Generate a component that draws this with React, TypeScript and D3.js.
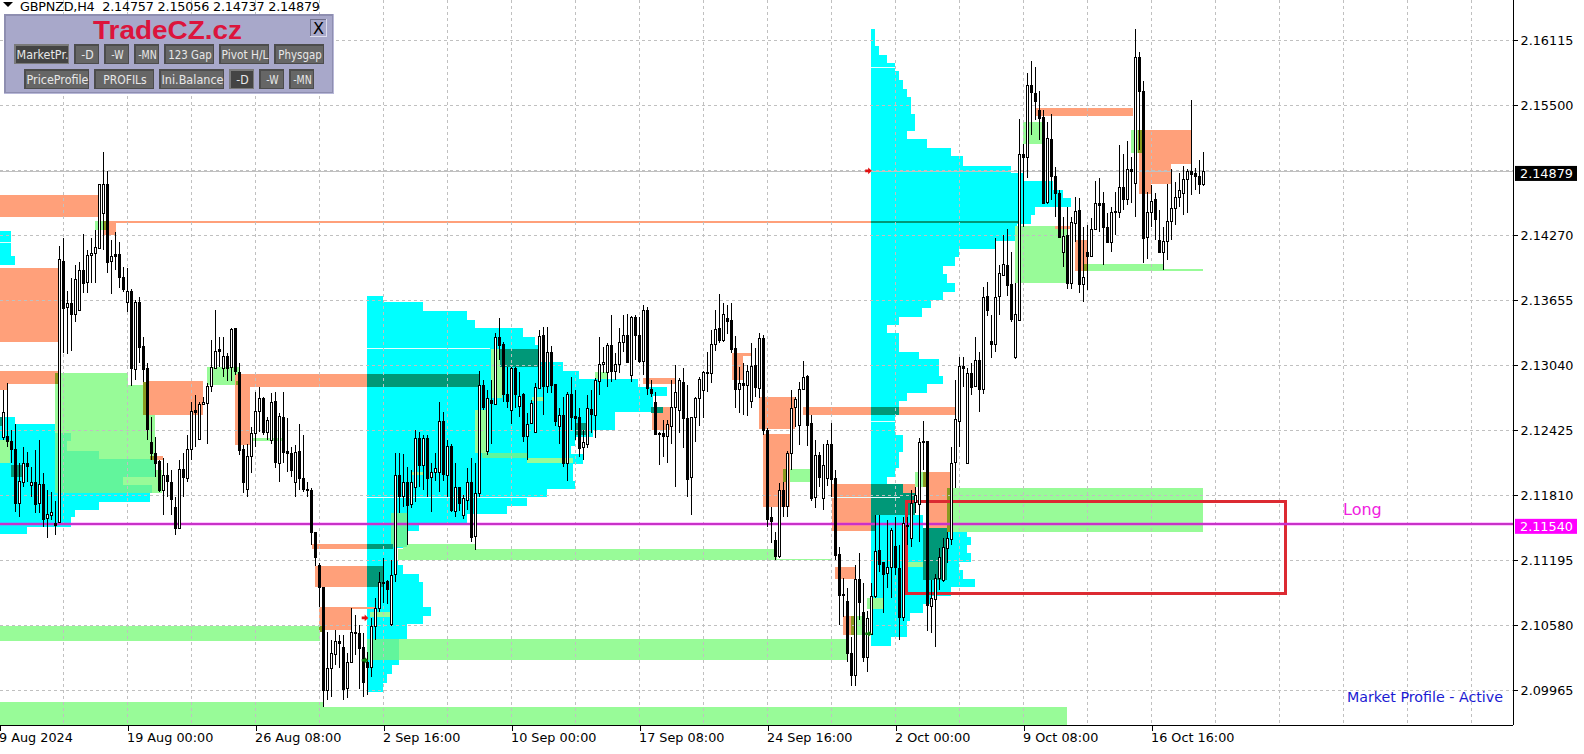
// GBPNZD H4 chart with market profile zones, drawn with D3 into one svg.
import { useEffect, useRef } from "react";
import * as d3 from "d3";

const WIDTH = 1584;
const HEIGHT = 754;
const PLOT_RIGHT = 1513;
const PLOT_BOTTOM = 725;

// All prices below are stored as pips above 2.0000, bars are counted from the first full candle.
// Candles: [open, high, low, close]
const candlesAug = [
  [1236,1281,1233,1260],[1237,1287,1227,1232],[1232,1243,1212,1224],[1225,1248,1165,1174],[1174,1212,1160,1195],
  [1194,1227,1189,1212],[1212,1222,1194,1209],[1191,1208,1179,1194],[1194,1224,1164,1173],[1174,1233,1164,1192],
  [1192,1202,1151,1159],[1159,1186,1141,1163],[1162,1184,1158,1165],[1155,1176,1143,1153],[1156,1417,1155,1405],
  [1403,1424,1316,1359],[1359,1374,1315,1363],[1363,1387,1318,1353],[1353,1399,1345,1386],[1356,1402,1356,1394],
  [1394,1428,1372,1382],[1382,1413,1372,1408],[1408,1424,1382,1410],[1410,1432,1382,1416],[1415,1476,1415,1476],
  [1449,1506,1413,1476],[1476,1488,1391,1402],[1402,1423,1371,1407],[1409,1430,1394,1407],[1409,1421,1377,1387],
  [1388,1397,1373,1377],[1364,1396,1354,1374],[1374,1376,1284,1301],[1301,1366,1290,1364],[1364,1369,1306,1321],
  [1322,1331,1288,1300],[1301,1306,1233,1243],[1231,1255,1214,1221],[1221,1236,1198,1212],[1213,1214,1184,1186],
  [1186,1216,1162,1200],[1200,1212,1179,1194],[1194,1205,1162,1178],[1170,1179,1143,1150],[1150,1214,1150,1206],
  [1206,1221,1179,1198],[1198,1238,1194,1225],[1225,1269,1214,1261],[1262,1276,1227,1260],[1234,1269,1233,1267],
  [1267,1274,1267,1269],[1268,1287,1230,1284],[1284,1328,1279,1302],[1302,1356,1301,1318],[1319,1331,1302,1317],
  [1302,1331,1293,1313],[1313,1316,1289,1302],[1302,1339,1289,1338],[1339,1339,1295,1298],[1298,1306,1219,1224],
  [1225,1229,1183,1194],[1187,1230,1179,1218],[1218,1246,1202,1240],[1240,1279,1227,1261],[1261,1283,1241,1273],
  [1273,1274,1238,1241],[1241,1255,1233,1252],[1233,1278,1230,1269],[1270,1279,1207,1212],[1212,1259,1194,1256],
  [1255,1279,1212,1222],[1223,1254,1203,1221],[1221,1227,1198,1205],[1194,1229,1179,1222],[1223,1248,1186,1197],
  [1197,1238,1184,1187],[1187,1194,1179,1186],[1186,1188,1134,1146],[1146,1146,1114,1122],[1115,1117,1075,1094],
  [1094,1094,981,997],[997,1052,987,1018],[1018,1044,990,1032],[1031,1054,1020,1043],[1043,1049,1018,1041],
  [1037,1049,987,997],[998,1032,989,1023],[1024,1074,1023,1052],[1051,1068,1030,1052],[1051,1058,998,1037],
  [1037,1051,990,1004],[1023,1033,992,1018],[1018,1065,1009,1057],[1057,1084,1044,1074],[1074,1108,1071,1099],
];
const candlesSep = [
  [1099,1122,1079,1098],[1100,1101,1078,1092],[1060,1120,1057,1106],[1106,1221,1099,1200],[1200,1221,1164,1180],
  [1181,1220,1170,1194],[1194,1208,1134,1172],[1173,1205,1169,1194],[1189,1243,1175,1235],[1235,1241,1189,1209],
  [1209,1238,1186,1235],[1235,1238,1179,1197],[1198,1212,1165,1203],[1203,1221,1195,1207],[1203,1269,1184,1251],
  [1251,1260,1195,1201],[1201,1233,1179,1228],[1228,1230,1165,1167],[1166,1212,1160,1189],[1189,1189,1166,1174],
  [1162,1181,1159,1178],[1177,1207,1167,1194],[1194,1216,1137,1142],[1142,1212,1129,1183],[1183,1299,1179,1285],
  [1285,1290,1262,1264],[1223,1281,1219,1273],[1271,1290,1230,1268],[1268,1335,1267,1331],[1331,1349,1309,1323],
  [1324,1326,1269,1277],[1277,1302,1264,1270],[1261,1302,1248,1301],[1301,1302,1264,1276],[1266,1298,1255,1275],
  [1277,1278,1231,1237],[1237,1259,1214,1248],[1249,1271,1248,1268],[1240,1287,1240,1283],[1283,1337,1282,1332],
  [1333,1340,1257,1285],[1285,1340,1278,1317],[1317,1322,1278,1286],[1286,1286,1247,1251],[1247,1264,1230,1257],
  [1257,1274,1208,1212],[1212,1279,1195,1277],[1277,1293,1243,1255],[1256,1281,1233,1254],[1255,1264,1217,1226],
  [1226,1243,1214,1231],[1230,1276,1226,1264],[1263,1281,1240,1258],[1257,1292,1235,1290],[1289,1331,1276,1305],
  [1305,1321,1297,1307],[1297,1325,1283,1323],[1323,1352,1288,1298],[1298,1316,1290,1305],[1305,1339,1297,1326],
  [1326,1352,1317,1333],[1333,1353,1306,1307],[1295,1351,1288,1350],[1350,1352,1309,1333],[1333,1350,1306,1308],
  [1308,1361,1295,1356],[1356,1359,1276,1282],[1282,1290,1274,1278],[1269,1279,1238,1239],[1240,1241,1210,1239],
  [1240,1252,1217,1237],[1237,1252,1212,1248],[1247,1290,1230,1265],[1265,1304,1189,1279],[1262,1292,1240,1290],
  [1288,1301,1226,1254],[1254,1285,1179,1196],[1198,1255,1162,1255],[1255,1274,1231,1273],[1273,1293,1247,1291],
  [1281,1299,1254,1298],[1298,1317,1279,1297],[1297,1337,1287,1324],[1324,1356,1318,1338],[1339,1371,1325,1328],
  [1328,1363,1326,1353],[1349,1361,1334,1346],[1347,1363,1316,1320],[1320,1332,1264,1281],[1281,1302,1259,1287],
  [1287,1306,1257,1285],[1286,1304,1256,1299],[1270,1325,1264,1303],[1304,1320,1274,1283],[1283,1335,1273,1330],
  [1330,1333,1238,1243],[1243,1245,1151,1159],[1160,1170,1136,1156],[1139,1146,1120,1124],[1124,1193,1122,1186],
  [1186,1194,1160,1171],[1171,1223,1160,1221],[1221,1281,1205,1264],[1264,1274,1246,1272],[1248,1288,1229,1282],
  [1282,1308,1281,1293],[1294,1295,1228,1248],[1249,1257,1176,1178],[1179,1233,1169,1219],[1219,1222,1189,1198],
  [1179,1230,1167,1210],[1198,1233,1190,1230],[1230,1249,1179,1197],[1197,1205,1120,1124],[1125,1132,1058,1086],
  [1088,1103,1066,1087],[1081,1093,1023,1032],[1032,1047,1001,1011],[1011,1115,1001,1102],[1102,1126,1063,1080],
  [1071,1098,1023,1028],[1028,1072,1014,1065],[1050,1098,1049,1086],[1085,1162,1084,1128],[1129,1162,1108,1116],
  [1118,1118,1070,1107],[1107,1158,1093,1113],[1113,1150,1084,1148],
];
const candlesOct = [
  [1133,1160,1106,1113],[1112,1134,1044,1066],[1066,1160,1062,1155],[1153,1160,1134,1152],[1141,1186,1132,1174],
  [1174,1189,1164,1181],[1172,1235,1137,1231],[1231,1251,1205,1232],[1232,1232,1053,1077],[1076,1101,1051,1084],
  [1083,1107,1037,1103],[1103,1131,1091,1123],[1101,1141,1099,1132],[1132,1146,1117,1141],[1140,1227,1134,1212],
  [1212,1290,1188,1253],[1251,1312,1227,1303],[1303,1312,1283,1301],[1212,1301,1212,1297],[1297,1306,1276,1284],
  [1284,1331,1283,1309],[1309,1317,1260,1282],[1282,1378,1277,1369],[1370,1383,1351,1357],[1327,1352,1311,1324],
  [1325,1424,1317,1369],[1369,1399,1352,1391],[1390,1427,1389,1400],[1399,1433,1370,1380],[1381,1411,1345,1348],
  [1312,1382,1310,1353],[1347,1537,1346,1504],[1504,1513,1435,1501],[1501,1581,1481,1569],[1569,1592,1522,1562],
  [1562,1586,1536,1554],[1546,1564,1517,1538],[1539,1546,1457,1458],[1458,1534,1457,1519],[1518,1542,1460,1483],
  [1483,1492,1444,1467],[1467,1470,1424,1425],[1411,1444,1397,1426],[1427,1454,1376,1382],[1382,1444,1376,1440],
  [1439,1463,1421,1450],[1451,1462,1372,1381],[1381,1435,1364,1388],[1411,1437,1375,1407],[1407,1443,1406,1433],
  [1433,1478,1432,1458],[1458,1481,1430,1456],[1458,1468,1399,1435],[1435,1448,1420,1421],[1421,1454,1411,1449],
  [1450,1468,1427,1449],[1449,1512,1443,1473],[1473,1504,1451,1462],[1462,1516,1456,1490],[1490,1501,1458,1488],
  [1477,1622,1444,1596],[1596,1600,1508,1564],[1564,1573,1401,1425],[1425,1468,1405,1449],[1449,1475,1435,1459],
  [1461,1467,1423,1442],[1423,1451,1411,1412],[1412,1435,1394,1422],[1422,1476,1404,1441],[1441,1490,1423,1453],
  [1453,1477,1437,1463],[1463,1486,1454,1470],[1467,1493,1446,1480],[1480,1490,1448,1488],[1488,1555,1465,1485],
  [1486,1491,1470,1483],[1483,1498,1466,1475],[1476,1506,1474,1488],
];

// Market profile histograms: start bar, then rows of [top, bottom, end bar]
const profileLeftStart = -1;
const profileLeft = [
  [1431,1407,1.875],[1407,1399,2.875],[1255,1248,2.875],[1248,1183,12.875],[1183,1175,36.625],
  [1175,1167,23.875],[1167,1160,17.875],[1160,1151,16.875],[1151,1144,5.875],
];
const profileSepStart = 90.875;
const profileSep = [
  [1370,1364,94.875],[1364,1355,104.875],[1355,1347,115.875],[1347,1339,117.875],[1339,1331,129.875],
  [1331,1323,132.875],[1323,1307,133.625],[1307,1299,139.875],[1299,1291,143.875],[1291,1283,158.625],
  [1283,1275,165.875],[1275,1260,162.375],[1260,1243,152.875],[1243,1236,147.375],[1236,1228,142.875],
  [1228,1220,141.875],[1220,1211,144.875],[1211,1195,142.375],[1195,1187,142.875],[1187,1179,135.875],
  [1179,1171,130.875],[1171,1163,125.875],[1163,1155,115.875],[1155,1147,103.875],[1147,1131,99.875],
  [1131,1120,97.875],[1120,1115,98.625],[1115,1107,99.875],[1107,1099,103.875],[1099,1075,104.875],
  [1075,1067,106.875],[1067,1059,104.875],[1059,1045,100.875],[1045,1020,98.875],[1020,1012,97.125],
  [1012,1003,95.875],[1003,995,94.875],
];
const profileOctStart = 216.875;
const profileOctUpper = [
  [1622,1606,217.875],[1606,1598,218.875],[1598,1590,220.875],[1590,1582,222.875],[1582,1574,223.875],
  [1574,1565,224.875],[1565,1558,225.875],[1558,1542,226.875],[1542,1526,227.875],[1526,1518,225.875],
  [1518,1510,230.875],[1510,1502,236.875],[1502,1493,239.875],[1493,1486,251.875],[1486,1478,254.875],
  [1478,1470,262.375],[1470,1462,264.875],[1462,1454,266.875],[1454,1446,257.875],[1446,1438,256.875],
  [1438,1430,253.375],[1430,1422,252.875],[1422,1414,247.875],[1414,1406,238.875],[1406,1398,237.875],
  [1398,1390,234.875],[1390,1382,235.875],[1382,1373,237.875],[1373,1366,234.875],[1366,1358,231.875],
  [1358,1350,229.625],[1350,1342,223.875],[1342,1335,220.875],[1335,1317,223.875],[1317,1310,228.875],
  [1310,1294,233.875],[1294,1286,234.875],[1286,1278,230.875],[1278,1270,225.875],[1270,1257,223.875],
  [1257,1238,222.875],[1238,1222,224.875],[1222,1207,223.875],[1207,1198,222.875],[1198,1192,220.875],
];
const profileOctLower = [
  [1162,1150,229.875],[1150,1142,240.875],[1142,1134,241.875],[1134,1126,240.875],[1126,1118,241.875],
  [1118,1110,238.875],[1110,1102,239.875],[1102,1094,242.875],[1094,1086,236.875],[1086,1078,231.875],
  [1078,1070,229.875],[1070,1062,226.625],[1062,1047,225.875],[1047,1038,221.875],
];

// Zones: [from bar, to bar, top, bottom]
const salmonZones = [
  [-1,23.875,1465,1444],[24.875,28.125,1441,1427],[28.125,216.875,1441,1439],[-1,13.625,1396,1326],
  [-1,13.625,1299,1286],[-1,0.875,1286,1281],[35.875,49.875,1289,1257],[37.125,39.875,1218,1214],
  [57.875,90.875,1296,1283],[57.875,61.625,1283,1229],[77.125,90.875,1135,1130],[77.875,90.875,1114,1094],
  [78.875,87.125,1075,1054],[87.125,92.875,1075,1073],[159.875,167.875,1292,1286],[162.125,166.625,1265,1243],
  [182.125,184.875,1316,1290],[182.125,187.125,1316,1313],[188.875,197.875,1274,1244],[189.875,196.625,1239,1170],
  [199.875,216.875,1265,1257],[223.875,237.875,1265,1257],[207.125,216.875,1192,1147],[220.875,227.875,1192,1183],
  [230.625,236.875,1203,1150],[207.875,212.875,1113,1102],[209.875,211.875,1067,1049],[257.875,282.375,1547,1540],
  [262.875,266.625,1436,1433],[267.875,270.875,1423,1393],[284.625,296.875,1527,1494],[284.625,291.875,1494,1476],
  [283.875,286.875,1505,1466],
];
const greenZones = [
  [22.875,25.625,1441,1432],[12.875,31.125,1297,1285],[12.875,37.875,1285,1183],[37.875,39.625,1205,1183],
  [50.875,59.125,1302,1285],[60.875,69.875,1235,1232],[-1,79.125,1057,1043],[98.875,210.875,1045,1025],
  [-1,79.875,985,963],[79.875,265.875,981,963],[98.625,193.375,1130,1120],[99.875,117.875,1135,1130],[193.375,207.125,1121,1120],
  [194.875,201.625,1206,1194],[236.875,299.875,1188,1146],[252.875,265.875,1436,1382],[254.875,259.625,1534,1513],
  [270.875,289.875,1400,1393],[289.875,299.875,1395,1393],[281.875,284.625,1527,1505],[227.875,230.625,1203,1189],
  [212.875,214.875,1067,1049],[215.875,219.875,1084,1073],[225.875,229.875,1118,1113],[-1,1.625,1233,1212],
  [121.875,124.625,1319,1273],[117.875,120.875,1262,1221],[130.875,142.375,1216,1212],[132.125,134.875,1274,1270],
  [102.125,104.875,1203,1200],[147.875,150.875,1298,1291],[91.625,96.625,1071,1066],
];
const mediumGreenZones = [
  [12.875,16.875,1240,1232],[12.875,15.875,1232,1223],[12.875,23.875,1223,1215],[12.875,37.875,1215,1198],
  [12.875,29.875,1198,1191],[12.875,37.125,1191,1183],[90.875,98.875,1045,1025],[96.875,100.875,1164,1132],
  [119.625,130.875,1221,1216],
];
const tealZones = [
  [-1,-0.375,1255,1247],[1.875,4.875,1210,1198],[90.875,118.875,1296,1283],[124.125,133.625,1319,1302],
  [142.875,145.875,1249,1238],[161.875,164.875,1265,1259],[90.875,97.375,1135,1130],[90.875,94.875,1114,1094],
  [216.875,223.875,1265,1257],[216.875,224.875,1192,1162],[224.875,227.875,1183,1162],[216.875,217.875,1162,1147],
  [229.875,235.875,1150,1101],[216.875,253.625,1441,1439],
];
const oliveZones = [
  [24.875,25.625,1441,1432],[12.875,13.625,1297,1286],[34.875,35.875,1288,1257],[36.625,37.875,1218,1214],
  [58.125,59.125,1289,1285],[78.875,79.875,1057,1052],[194.875,196.125,1206,1194],[211.875,212.875,1067,1049],
  [235.875,236.875,1188,1146],[229.875,230.625,1203,1189],[269.875,270.875,1400,1393],[283.625,284.625,1527,1505],
];
// Thin pale lines inside the profiles: [from bar, to bar, price]
const paleLines = [
  [-1,1.875,1421],[90.875,121.5,1320],[90.875,130.875,1179],[216.875,222.875,1586],[216.875,222.875,1251],[207.125,224,1179],
];

// Signal arrows: [bar, price]
const redArrows = [[216.25,1488],[90.375,1065]];
const greenArrows = [[90.375,1025],[216.25,1050]];

// Trade box and lines
const tradeBox = { fromBar: 225.625, toBar: 320.5, top: 2.11749, bottom: 2.10878 };
const longLevel = 2.1154;
const lastPrice = 2.14879;

const priceTicks = [2.16115, 2.155, 2.14885, 2.1427, 2.13655, 2.1304, 2.12425, 2.1181, 2.11195, 2.1058, 2.09965];
const priceLabels = [2.16115, 2.155, 2.1427, 2.13655, 2.1304, 2.12425, 2.1181, 2.11195, 2.1058, 2.09965];
const timeTickBars = [-1, 31, 63, 95, 127, 159, 191, 223, 255, 287];
const timeLabels = ["9 Aug 2024", "19 Aug 00:00", "26 Aug 08:00", "2 Sep 16:00", "10 Sep 00:00", "17 Sep 08:00", "24 Sep 16:00", "2 Oct 00:00", "9 Oct 08:00", "16 Oct 16:00"];
const gridBars = d3.range(-1, 368, 16);

// Control panel buttons
const buttonRow1 = ["MarketPr.", "-D", "-W", "-MN", "123 Gap", "Pivot H/L", "Physgap"];
const buttonRow1Widths = [55, 25, 25, 25, 50, 50, 50];
const buttonRow2 = ["PriceProfile", "PROFILs", "Ini.Balance", "-D", "-W", "-MN"];
const buttonRow2Widths = [65, 60, 65, 25, 25, 25];

const FONT = "'DejaVu Sans', sans-serif";
const AXIS_FONT_SIZE = 12.8;
const SALMON = "#ffa07a";
const GREEN = "#98fb98";
const MEDIUM_GREEN = "#62f59c";
const CYAN = "#00ffff";
const TEAL = "#009878";
const OLIVE = "#8a9a20";

const toPrice = (pips: number) => 2 + pips / 10000;

export default function App() {
  const svgRef = useRef<SVGSVGElement>(null);

  useEffect(() => {
    document.body.style.margin = "0";
    const svg = d3.select(svgRef.current);
    svg.selectAll("*").remove();
    svg.attr("viewBox", `0 0 ${WIDTH} ${HEIGHT}`).attr("font-family", FONT);

    const candles = [...candlesAug, ...candlesSep, ...candlesOct];

    const x = d3.scaleLinear().domain([0, 300]).range([3.5, 1203.5]);
    const y = d3.scaleLinear().domain([2.09965, 2.16115]).range([690.3, 40.3]);
    const py = (pips: number) => y(toPrice(pips));

    svg.append("rect").attr("width", WIDTH).attr("height", HEIGHT).attr("fill", "#ffffff");

    svg.append("defs").append("clipPath").attr("id", "plot")
      .append("rect").attr("width", PLOT_RIGHT).attr("height", PLOT_BOTTOM);

    const plot = svg.append("g").attr("clip-path", "url(#plot)").attr("shape-rendering", "crispEdges");

    // Profiles first, zones sit on top of them
    const drawProfile = (rows: number[][], start: number) => {
      plot.append("g").selectAll("rect").data(rows).join("rect")
        .attr("x", x(start))
        .attr("y", d => py(d[0]))
        .attr("width", d => x(d[2]) - x(start))
        .attr("height", d => py(d[1]) - py(d[0]))
        .attr("fill", CYAN);
    };
    drawProfile(profileLeft, profileLeftStart);
    drawProfile(profileSep, profileSepStart);
    drawProfile(profileOctUpper, profileOctStart);
    drawProfile(profileOctLower, profileOctStart);

    const drawZones = (rows: number[][], fill: string) => {
      plot.append("g").selectAll("rect").data(rows).join("rect")
        .attr("x", d => x(d[0]))
        .attr("y", d => py(d[2]))
        .attr("width", d => x(d[1]) - x(d[0]))
        .attr("height", d => py(d[3]) - py(d[2]))
        .attr("fill", fill);
    };
    drawZones(greenZones, GREEN);
    drawZones(mediumGreenZones, MEDIUM_GREEN);
    drawZones(salmonZones, SALMON);
    drawZones(tealZones, TEAL);
    drawZones(oliveZones, OLIVE);

    plot.append("g").selectAll("line").data(paleLines).join("line")
      .attr("x1", d => x(d[0])).attr("x2", d => x(d[1]))
      .attr("y1", d => Math.round(py(d[2])) + 0.5).attr("y2", d => Math.round(py(d[2])) + 0.5)
      .attr("stroke", "#e4ffff");

    // Grid
    const grid = plot.append("g").attr("stroke", "#c0c0c0").attr("stroke-dasharray", "3 3");
    grid.selectAll(".h").data(priceTicks).join("line").attr("class", "h")
      .attr("x1", 0).attr("x2", PLOT_RIGHT)
      .attr("y1", d => Math.round(y(d)) + 0.5).attr("y2", d => Math.round(y(d)) + 0.5);
    grid.selectAll(".v").data(gridBars).join("line").attr("class", "v")
      .attr("x1", d => x(d)).attr("x2", d => x(d))
      .attr("y1", 0).attr("y2", PLOT_BOTTOM);

    // Trade box, level lines
    plot.append("rect")
      .attr("x", x(tradeBox.fromBar)).attr("y", y(tradeBox.top))
      .attr("width", x(tradeBox.toBar) - x(tradeBox.fromBar))
      .attr("height", y(tradeBox.bottom) - y(tradeBox.top))
      .attr("fill", "none").attr("stroke", "#dc2a32").attr("stroke-width", 3);

    plot.append("rect")
      .attr("x", 0).attr("width", PLOT_RIGHT)
      .attr("y", Math.round(y(lastPrice))).attr("height", 1)
      .attr("fill", "#c0c0c0");

    plot.append("rect")
      .attr("x", 0).attr("width", PLOT_RIGHT)
      .attr("y", Math.round(y(longLevel)) - 2).attr("height", 4)
      .attr("fill", "#ff00ff").attr("opacity", 0.22);
    plot.append("rect")
      .attr("x", 0).attr("width", PLOT_RIGHT)
      .attr("y", Math.round(y(longLevel)) - 1).attr("height", 2)
      .attr("fill", "#c832c8");

    // Candles: 1px wick, 3px body, hollow when bullish
    const candle = plot.append("g").selectAll("g").data(candles).join("g");
    candle.append("line")
      .attr("x1", (_, i) => x(i)).attr("x2", (_, i) => x(i))
      .attr("y1", d => py(d[1])).attr("y2", d => py(d[2]))
      .attr("stroke", "#000000");
    candle.append("rect")
      .attr("x", (_, i) => x(i) - 1)
      .attr("width", 2)
      .attr("y", d => Math.round(py(Math.max(d[0], d[3]))) + 0.5)
      .attr("height", d => Math.max(1, Math.round(Math.abs(py(d[0]) - py(d[3])))))
      .attr("fill", d => (d[3] >= d[0] ? "#ffffff" : "#000000"))
      .attr("stroke", "#000000");

    // Arrows pointing right
    const drawArrows = (rows: number[][], fill: string) => {
      svg.append("g").selectAll("path").data(rows).join("path")
        .attr("d", "M-3.3,-1.3H-0.3V-3.3L3.3,0L-0.3,3.3V1.3H-3.3Z")
        .attr("transform", d => `translate(${x(d[0])},${py(d[1])})`)
        .attr("fill", fill);
    };
    drawArrows(redArrows, "#e01010");
    drawArrows(greenArrows, "#108010");

    // Axes
    const yAxis = svg.append("g")
      .attr("transform", `translate(${PLOT_RIGHT + 0.5},0)`)
      .call(d3.axisRight(y).tickValues(priceLabels).tickSize(4).tickFormat(d3.format(".5f")));
    yAxis.select(".domain").attr("d", `M0,0V${PLOT_BOTTOM}`).attr("stroke", "#000000");
    yAxis.selectAll("line").attr("shape-rendering", "crispEdges");
    yAxis.selectAll("text")
      .attr("x", 7).attr("font-family", FONT).attr("font-size", AXIS_FONT_SIZE).attr("fill", "#000000");

    const xAxis = svg.append("g")
      .attr("transform", `translate(0,${PLOT_BOTTOM + 0.5})`)
      .call(d3.axisBottom(x).tickValues(timeTickBars).tickSize(5).tickFormat((_, i) => timeLabels[i]));
    xAxis.select(".domain").attr("d", `M0,0H${PLOT_RIGHT}`).attr("stroke", "#000000");
    xAxis.selectAll("line").attr("shape-rendering", "crispEdges");
    xAxis.selectAll("text")
      .attr("text-anchor", "start").attr("x", -1).attr("y", 7).attr("dy", "0.71em")
      .attr("font-family", FONT).attr("font-size", AXIS_FONT_SIZE).attr("fill", "#000000");

    // Price tags on the right
    const tag = (price: number, fill: string) => {
      const g = svg.append("g");
      g.append("rect")
        .attr("x", PLOT_RIGHT + 2).attr("y", y(price) - 5).attr("width", 62).attr("height", 15)
        .attr("fill", fill);
      g.append("text")
        .attr("x", PLOT_RIGHT + 7).attr("y", y(price) + 7)
        .attr("font-size", AXIS_FONT_SIZE).attr("fill", "#ffffff")
        .text(d3.format(".5f")(price));
    };
    tag(lastPrice, "#000000");
    tag(longLevel, "#ff00ff");

    // Header
    svg.append("path").attr("d", "M3,2H13L8,7Z").attr("fill", "#000000");
    svg.append("text").attr("x", 20).attr("y", 11)
      .attr("font-size", AXIS_FONT_SIZE).attr("fill", "#000000").style("white-space", "pre")
      .attr("textLength", 300)
      .text("GBPNZD,H4  2.14757 2.15056 2.14737 2.14879");

    // Texts in the plot
    svg.append("text").attr("x", 1343).attr("y", 515)
      .attr("font-size", 16).attr("fill", "#f020e0").text("Long");
    svg.append("text").attr("x", 1347).attr("y", 702)
      .attr("font-size", 14.5).attr("fill", "#1a1ad2")
      .attr("textLength", 156).attr("lengthAdjust", "spacingAndGlyphs")
      .text("Market Profile - Active");

    // Panel
    const panel = svg.append("g").attr("shape-rendering", "crispEdges");
    panel.append("rect").attr("x", 4).attr("y", 14).attr("width", 330).attr("height", 80).attr("fill", "#b8b8d8");
    panel.append("rect").attr("x", 4).attr("y", 14).attr("width", 329).attr("height", 79).attr("fill", "#8e8eb0");
    panel.append("rect").attr("x", 6).attr("y", 16).attr("width", 326).attr("height", 76).attr("fill", "#a8a8ca");
    svg.append("text").attr("x", 93).attr("y", 39)
      .attr("font-family", "'Liberation Sans', sans-serif").attr("font-weight", "bold")
      .attr("font-size", 25).attr("fill", "#dc143c")
      .attr("textLength", 149).attr("lengthAdjust", "spacingAndGlyphs")
      .text("TradeCZ.cz");

    panel.append("rect").attr("x", 310).attr("y", 19).attr("width", 17).attr("height", 18).attr("fill", "#dcdcec");
    panel.append("rect").attr("x", 310).attr("y", 19).attr("width", 16).attr("height", 17).attr("fill", "#70708c");
    panel.append("rect").attr("x", 311).attr("y", 20).attr("width", 15).attr("height", 16).attr("fill", "#a8a8ca");
    svg.append("text").attr("x", 318.5).attr("y", 34).attr("text-anchor", "middle")
      .attr("font-size", 16).attr("fill", "#000000").text("X");

    const drawButtons = (labels: string[], widths: number[], startX: number, top: number, pressed: number[]) => {
      let left = startX;
      labels.forEach((label, i) => {
        const w = widths[i];
        const isDown = pressed.includes(i);
        panel.append("rect").attr("x", left).attr("y", top).attr("width", w).attr("height", 20)
          .attr("fill", isDown ? "#7a7a7a" : "#4c4c4c");
        panel.append("rect").attr("x", left + 2).attr("y", top + 2).attr("width", w - 3).attr("height", 17)
          .attr("fill", isDown ? "#444444" : "#666666");
        svg.append("text")
          .attr("x", left + w / 2 + 1).attr("y", top + 15).attr("text-anchor", "middle")
          .attr("textLength", Math.min(label.length * 6.2, w - 3)).attr("lengthAdjust", "spacingAndGlyphs")
          .attr("font-size", 12).attr("fill", "#e8e8e8").text(label);
        left += w + 5;
      });
    };
    drawButtons(buttonRow1, buttonRow1Widths, 14, 44, [0]);
    drawButtons(buttonRow2, buttonRow2Widths, 24, 69, [3]);
  }, []);

  return <svg ref={svgRef} width={WIDTH} height={HEIGHT} style={{ position: "fixed", left: 0, top: 0, display: "block" }} />;
}
